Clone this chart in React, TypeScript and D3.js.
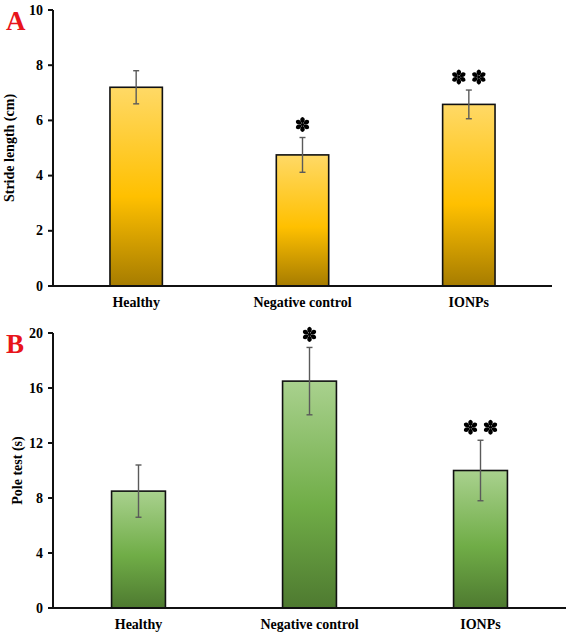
import React from 'react';
import * as d3 from 'd3';

const groups = ['Healthy', 'Negative control', 'IONPs'];

const strideMean = [7.2, 4.75, 6.58];
const strideErr = [0.6, 0.63, 0.52];
const strideStars = ['', '*', '**'];
const strideTicks = [0, 2, 4, 6, 8, 10];

const poleMean = [8.5, 16.5, 10.0];
const poleErr = [1.9, 2.45, 2.2];
const poleStars = ['', '*', '**'];
const poleTicks = [0, 4, 8, 12, 16, 20];

const serif = '"Liberation Serif", "Times New Roman", serif';

// one six-petal asterisk, petals as teardrops
const petal = 'M0,-1 C-2.6,-3 -3.4,-6.4 0,-7.6 C3.4,-6.4 2.6,-3 0,-1Z';

function Star({ x, y }: { x: number; y: number }) {
  return (
    <g transform={`translate(${x},${y})`} fill="#000">
      {d3.range(6).map(k => (
        <path key={k} d={petal} transform={`rotate(${k * 60})`} />
      ))}
      <circle r={1.6} />
    </g>
  );
}

type PanelProps = {
  letter: string;
  title: string;
  means: number[];
  errs: number[];
  stars: string[];
  ticks: number[];
  x0: number;
  x1: number;
  yTop: number;
  yBottom: number;
  titleX: number;
  gradId: string;
  stops: string[];
};

function Panel(p: PanelProps) {
  const max = p.ticks[p.ticks.length - 1];
  const y = d3.scaleLinear().domain([0, max]).range([p.yBottom, p.yTop]);
  const x = d3.scaleBand().domain(groups).range([p.x0, p.x1]).padding(0);
  const bw = x.bandwidth() * 0.315;

  return (
    <g>
      <defs>
        <linearGradient id={p.gradId} x1="0" y1="0" x2="0" y2="1">
          <stop offset="0%" stopColor={p.stops[0]} />
          <stop offset="55%" stopColor={p.stops[1]} />
          <stop offset="100%" stopColor={p.stops[2]} />
        </linearGradient>
      </defs>

      <text x={6} y={p.yTop + 20} fill="#e8141b" fontFamily={serif} fontWeight="bold" fontSize={27}>
        {p.letter}
      </text>

      <text
        transform={`translate(${p.titleX},${(p.yTop + p.yBottom) / 2}) rotate(-90)`}
        textAnchor="middle"
        dominantBaseline="central"
        fontFamily={serif}
        fontWeight="bold"
        fontSize={14}
      >
        {p.title}
      </text>

      {/* bars */}
      {groups.map((g, i) => {
        const cx = x(g)! + x.bandwidth() / 2;
        return (
          <rect
            key={g}
            x={cx - bw / 2}
            y={y(p.means[i])}
            width={bw}
            height={y(0) - y(p.means[i])}
            fill={`url(#${p.gradId})`}
            stroke="#111"
            strokeWidth={1.6}
          />
        );
      })}

      {/* error bars */}
      {groups.map((g, i) => {
        const cx = x(g)! + x.bandwidth() / 2;
        const hi = y(p.means[i] + p.errs[i]);
        const lo = y(p.means[i] - p.errs[i]);
        return (
          <g key={g} stroke="#5a5a5a" strokeWidth={1.4}>
            <line x1={cx} x2={cx} y1={hi} y2={lo} />
            <line x1={cx - 3} x2={cx + 3} y1={hi} y2={hi} />
            <line x1={cx - 3} x2={cx + 3} y1={lo} y2={lo} />
          </g>
        );
      })}

      {/* significance marks */}
      {groups.map((g, i) => {
        const n = p.stars[i].length;
        if (!n) return null;
        const cx = x(g)! + x.bandwidth() / 2;
        const cy = y(p.means[i] + p.errs[i]) - 13;
        return (
          <g key={g}>
            {d3.range(n).map(k => (
              <Star key={k} x={cx + (k - (n - 1) / 2) * 20} y={cy} />
            ))}
          </g>
        );
      })}

      {/* y axis */}
      <line x1={p.x0} x2={p.x0} y1={p.yTop} y2={p.yBottom} stroke="#111" strokeWidth={2} />
      {p.ticks.map(t => (
        <g key={t} transform={`translate(0,${y(t)})`}>
          <line x1={p.x0 - 5} x2={p.x0} stroke="#111" strokeWidth={2} />
          <text
            x={p.x0 - 10}
            textAnchor="end"
            dominantBaseline="central"
            fontFamily={serif}
            fontWeight="bold"
            fontSize={14}
          >
            {t}
          </text>
        </g>
      ))}

      {/* x axis */}
      <line x1={p.x0 - 5} x2={p.x1} y1={p.yBottom} y2={p.yBottom} stroke="#111" strokeWidth={2} />
      {groups.map(g => (
        <text
          key={g}
          x={x(g)! + x.bandwidth() / 2}
          y={p.yBottom + 21}
          textAnchor="middle"
          fontFamily={serif}
          fontWeight="bold"
          fontSize={14}
        >
          {g}
        </text>
      ))}
    </g>
  );
}

export default function App() {
  return (
    <svg
      width={567}
      height={634}
      style={{ position: 'absolute', left: 0, top: 0, background: '#fff' }}
    >
      <Panel
        letter="A"
        title="Stride length (cm)"
        means={strideMean}
        errs={strideErr}
        stars={strideStars}
        ticks={strideTicks}
        x0={53}
        x1={552}
        yTop={10}
        yBottom={286}
        titleX={9}
        gradId="gold"
        stops={['#ffd966', '#ffc000', '#a67c00']}
      />
      <Panel
        letter="B"
        title="Pole test (s)"
        means={poleMean}
        errs={poleErr}
        stars={poleStars}
        ticks={poleTicks}
        x0={53}
        x1={566}
        yTop={333}
        yBottom={608}
        titleX={17}
        gradId="green"
        stops={['#a9d18e', '#70ad47', '#4e7a30']}
      />
    </svg>
  );
}
